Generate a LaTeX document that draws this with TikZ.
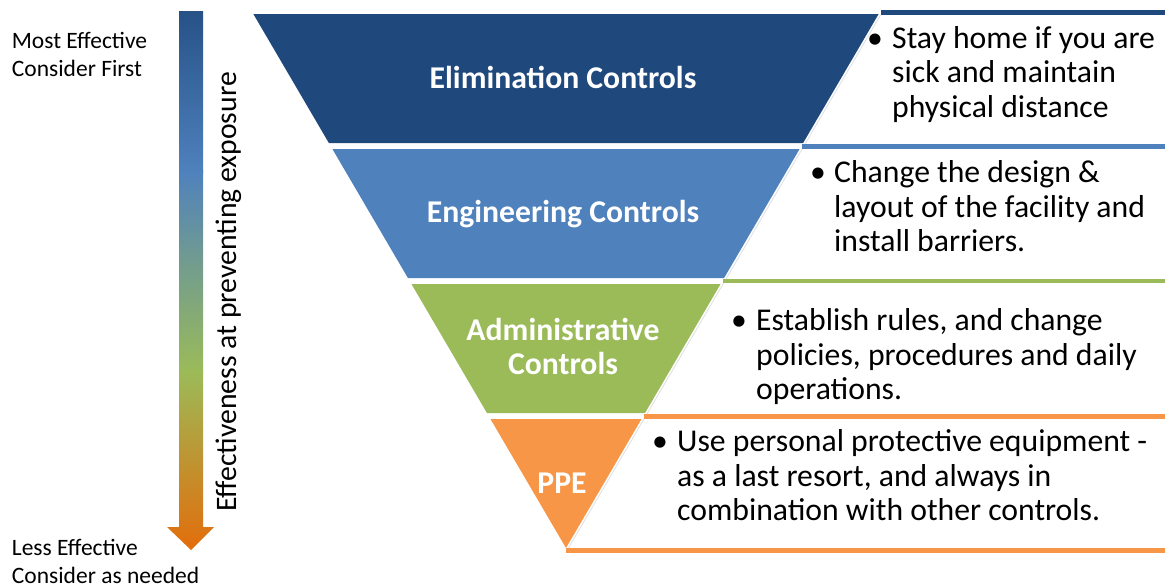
\documentclass[tikz,border=0pt]{standalone}
\usepackage{fontspec}
\setmainfont{Carlito}
\definecolor{elimc}{HTML}{1F497D}
\definecolor{engc}{HTML}{4F81BD}
\definecolor{admc}{HTML}{9BBB59}
\definecolor{ppec}{HTML}{F79646}
\definecolor{arrorange}{HTML}{E46C0A}
\newcommand\XL[1]{566-0.5855*(548-#1)}
\newcommand\XR[1]{566+0.5855*(548-#1)}
\newcommand\txtlines[2][l]{\begin{tabular}[t]{@{}#1@{}}#2\end{tabular}}
\begin{document}
\begin{tikzpicture}[x=1pt,y=-1pt,
  lab/.style={text=white, font=\fontsize{31.7}{34.3}\selectfont\bfseries, inner sep=0, anchor=base},
  body/.style={font=\fontsize{31.7}{34.5}\selectfont, inner sep=0, anchor=base west, text=black},
  bul/.style={font=\fontsize{31.7}{34.5}\selectfont, inner sep=0, anchor=base},
  side/.style={font=\fontsize{23.5}{28.4}\selectfont, inner sep=0, anchor=base west},
  rulebar/.style={line width=4.5pt},
  faint/.style={line width=0.7pt, black!14}
]
\useasboundingbox (0,0) rectangle (1165,587);

% bands of the inverted triangle
\fill[elimc] ({\XL{14}},14) -- ({\XR{14}},14) -- ({\XR{143}},143) -- ({\XL{143}},143) -- cycle;
\fill[engc] ({\XL{149}},149) -- ({\XR{149}},149) -- ({\XR{278}},278) -- ({\XL{278}},278) -- cycle;
\fill[admc] ({\XL{284}},284) -- ({\XR{284}},284) -- ({\XR{413}},413) -- ({\XL{413}},413) -- cycle;
\fill[ppec] ({\XL{419}},419) -- ({\XR{419}},419) -- (566,548) -- cycle;

% faint slanted outline of the text boxes
\draw[faint] ({\XR{15}+2.5},15) -- ({\XR{548}+2.5},548);

% coloured rules of the text boxes
\draw[rulebar, elimc] ({\XR{12.5}+1},12.5) -- (1165,12.5);
\draw[rulebar, engc] ({\XR{146.5}+1},146.5) -- (1165,146.5);
\draw[rulebar, admc] ({\XR{281}+1},281) -- (1165,281);
\draw[rulebar, ppec] ({\XR{416.5}+1},416.5) -- (1165,416.5);
\draw[rulebar, ppec] ({\XR{550.5}+1},550.5) -- (1165,550.5);

% gradient arrow
\begin{scope}
\clip (179,11) -- (203,11) -- (203,527) -- (214,527) -- (191,550) -- (167,527) -- (179,527) -- cycle;
\shade[top color=elimc!85!engc, bottom color=engc] (160,10) rectangle (220,172);
\shade[top color=engc, bottom color=admc] (160,170) rectangle (220,372);
\shade[top color=admc, bottom color=arrorange] (160,370) rectangle (220,552);
\end{scope}

% side labels
\node[side] (most) at (11.7,48.3) {\txtlines{Most Effective\\Consider First}};
\node[side] (less) at (11.7,555) {\txtlines{Less Effective\\Consider as needed}};
\node[font=\fontsize{29.7}{34}\selectfont, rotate=90, anchor=base, inner sep=0] (effx) at (236.5,292) {Effectiveness at preventing exposure};

% band labels
\node[lab] (elim) at (563,88.3) {Elimination Controls};
\node[lab] (eng) at (563,222.7) {Engineering Controls};
\node[lab] (adm) at (563,340) {\txtlines[c]{Administrative\\Controls}};
\node[lab] (ppe) at (562,493.3) {PPE};

% bullet texts
\node[bul] (b1) at (875,48.3) {\textbullet};
\node[body] (t1) at (892,48.3) {\txtlines{Stay home if you are\\sick and maintain\\physical distance}};
\node[bul] (b2) at (818,182.7) {\textbullet};
\node[body] (t2) at (834,182.7) {\txtlines{Change the design \&\\layout of the facility and\\install barriers.}};
\node[bul] (b3) at (739,330.7) {\textbullet};
\node[body] (t3) at (756,330.7) {\txtlines{Establish rules, and change\\policies, procedures and daily\\operations.}};
\node[bul] (b4) at (660,451.7) {\textbullet};
\node[body] (t4) at (677,451.7) {\txtlines{Use personal protective equipment -\\as a last resort, and always in\\combination with other controls.}};
\end{tikzpicture}
\end{document}
